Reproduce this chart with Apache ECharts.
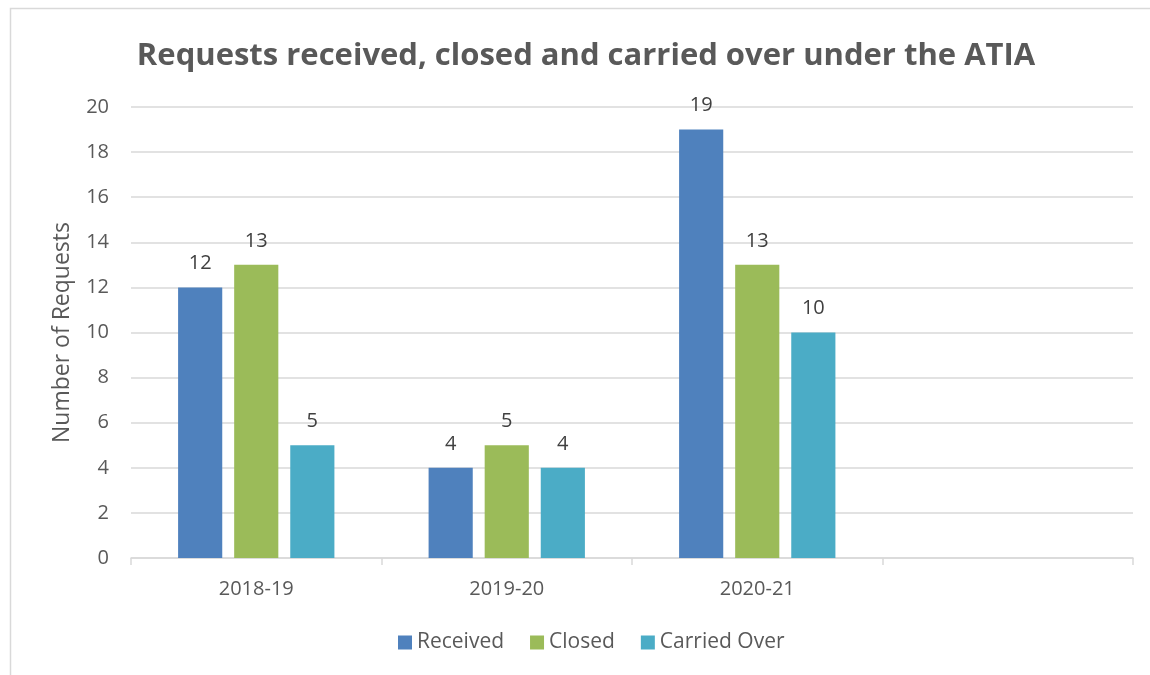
<!DOCTYPE html>
<html>
<head>
<meta charset="utf-8">
<script src="https://cdn.jsdelivr.net/npm/echarts@6/dist/echarts.min.js"></script>
<style>
    html, body { margin: 0; padding: 0; background: #fff; }
    #chart { width: 1150px; height: 675px; }
</style>
</head>
<body>
<div id="chart"></div>
<script>
    // data
    var years = ['2018-19', '2019-20', '2020-21', ''];
    var receivedList = [12, 4, 19, null];
    var closedList = [13, 5, 13, null];
    var carriedOverList = [5, 4, 10, null];

    var myChart = echarts.init(document.getElementById('chart'));
    var font = 'Open Sans';

    function barSeries(name, data, color) {
        return {
            name: name,
            type: 'bar',
            data: data,
            barGap: '27%',
            barCategoryGap: '37.6%',
            itemStyle: { color: color },
            label: {
                show: true,
                position: 'top',
                distance: 14,
                color: '#404040',
                fontFamily: font,
                fontSize: 20
            }
        };
    }

    var option = {
        animation: false,
        textStyle: { fontFamily: font },
        graphic: [{
            type: 'rect',
            shape: { x: 10.5, y: 8.5, width: 1200, height: 700 },
            style: { fill: null, stroke: '#d9d9d9', lineWidth: 1.5 },
            silent: true
        }],
        title: {
            text: 'Requests received, closed and carried over under the ATIA',
            left: 581,
            textAlign: 'center',
            top: 36,
            textStyle: { fontFamily: font, fontSize: 31, fontWeight: 'bold', color: '#595959' }
        },
        legend: {
            bottom: 17,
            left: 393,
            itemWidth: 14,
            itemHeight: 14,
            itemGap: 26,
            icon: 'rect',
            textStyle: { fontFamily: font, fontSize: 21, color: '#595959' },
            data: ['Received', 'Closed', 'Carried Over']
        },
        grid: { left: 131, right: 17, top: 107, bottom: 117 },
        xAxis: {
            type: 'category',
            data: years,
            axisLine: { lineStyle: { color: '#d9d9d9', width: 1.5 } },
            axisTick: { show: true, length: 7, lineStyle: { color: '#d9d9d9', width: 1.5 } },
            axisLabel: { color: '#595959', fontSize: 20, margin: 21 }
        },
        yAxis: {
            type: 'value',
            min: 0,
            max: 20,
            interval: 2,
            name: 'Number of Requests',
            nameLocation: 'middle',
            nameGap: 57,
            nameTextStyle: { color: '#595959', fontSize: 23, fontFamily: font },
            axisLine: { show: false },
            axisTick: { show: false },
            splitLine: { lineStyle: { color: '#d9d9d9', width: 1.5 } },
            axisLabel: { color: '#595959', fontSize: 20, margin: 22 }
        },
        series: [
            barSeries('Received', receivedList, '#4f81bd'),
            barSeries('Closed', closedList, '#9bbb59'),
            barSeries('Carried Over', carriedOverList, '#4bacc6')
        ]
    };

    myChart.setOption(option);
</script>
</body>
</html>
